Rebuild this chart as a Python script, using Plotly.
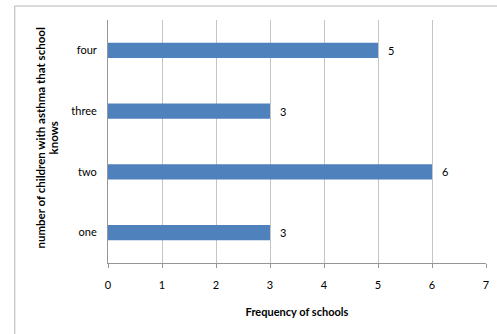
import plotly.graph_objects as go

categories = ["one", "two", "three", "four"]
values = [3, 6, 3, 5]
x_ticks = [0, 1, 2, 3, 4, 5, 6, 7]

W, H = 497, 334
L, R, T, B = 108, 8, 20, 71
pw, ph = W - L - R, H - T - B

FONT = "Lato, 'Open Sans', sans-serif"

fig = go.Figure(go.Bar(
    x=values, y=categories, orientation="h",
    marker=dict(color="#4f81bd", line=dict(width=0)),
    width=0.25,
))

for c, v in zip(categories, values):
    fig.add_annotation(x=v, y=c, text=str(v), showarrow=False,
                       xanchor="left", yanchor="middle", xshift=8,
                       font=dict(family=FONT, size=11, color="#000000"))

fig.update_layout(
    width=W, height=H,
    margin=dict(l=L, r=R, t=T, b=B),
    paper_bgcolor="white", plot_bgcolor="white",
    showlegend=False,
    font=dict(family=FONT, size=11, color="#000000"),
    xaxis=dict(
        range=[0, 7], tickvals=x_ticks, ticktext=[str(v) for v in x_ticks],
        showgrid=True, gridcolor="#c4c4c4", gridwidth=1,
        showline=True, linecolor="#969696", linewidth=1,
        ticks="outside", ticklen=4, tickcolor="#969696",
        ticklabelstandoff=8,
        zeroline=False, fixedrange=True,
        title=dict(text="<b>Frequency of schools</b>", font=dict(family=FONT, size=11), standoff=18),
    ),
    yaxis=dict(
        categoryorder="array", categoryarray=categories,
        showgrid=False, showline=True, linecolor="#969696", linewidth=1,
        ticks="", ticklabelstandoff=8, fixedrange=True,
    ),
    shapes=[
        dict(type="line", xref="paper", yref="paper",
             x0=(14 - L) / pw, x1=(W + 5 - L) / pw,
             y0=(H - B - 6) / ph, y1=(H - B - 6) / ph,
             line=dict(color="#b4b4b4", width=1)),
        dict(type="line", xref="paper", yref="paper",
             x0=(14 - L) / pw, x1=(14 - L) / pw,
             y0=(H - B - 6) / ph, y1=(H - B - H - 5) / ph,
             line=dict(color="#b4b4b4", width=1)),
    ],
)

for txt, px in [("<b>number of children with asthma that school</b>", 39),
                ("<b>knows</b>", 53)]:
    fig.add_annotation(
        text=txt, textangle=-90, xref="paper", yref="paper",
        x=(px - L) / pw, y=(H - B - 138) / ph,
        showarrow=False, xanchor="center", yanchor="middle",
        font=dict(family=FONT, size=11.5),
    )

fig.write_html("out.html")
